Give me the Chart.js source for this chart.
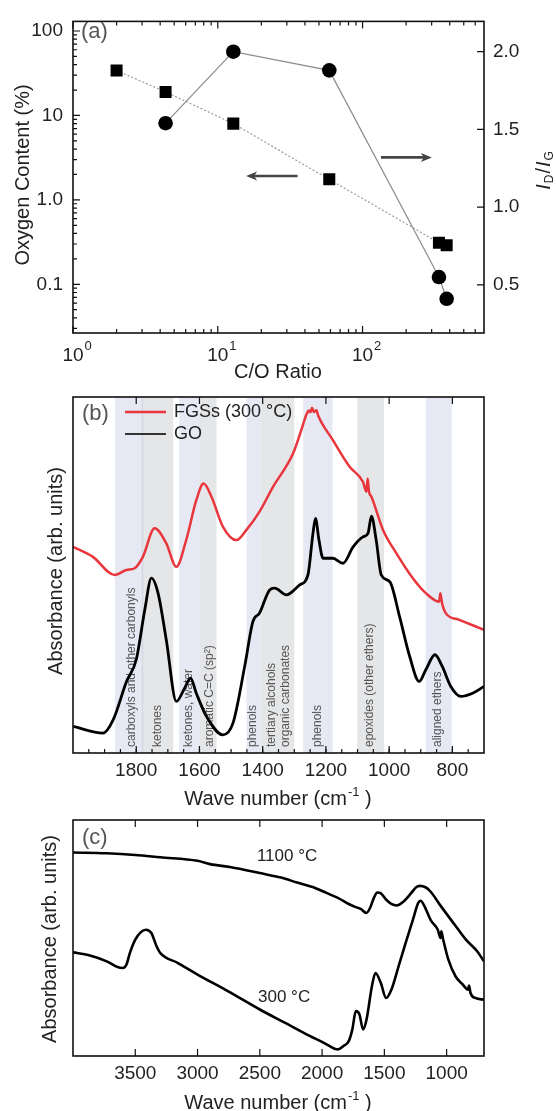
<!DOCTYPE html>
<html>
<head>
<meta charset="utf-8">
<script src="https://cdn.jsdelivr.net/npm/chart.js@4.4.0/dist/chart.umd.min.js"></script>
<style>
  body { margin: 0; background: #fff; width: 556px; height: 1111px; position: relative; overflow: hidden; }
  canvas { position: absolute; left: 0; }
</style>
</head>
<body>
<canvas id="chartA" width="556" height="390" style="top:0"></canvas>
<canvas id="chartB" width="556" height="425" style="top:385px"></canvas>
<canvas id="chartC" width="556" height="301" style="top:810px"></canvas>
<script>
// (a) oxygen content and Raman I_D/I_G against C/O ratio
const coOxygen = [2.0, 4.36, 12.8, 58.9, 337, 381];
const oxygenContent = [34, 19, 8.0, 1.75, 0.31, 0.29];
const coRaman = [4.36, 12.8, 58.9, 337, 381];
const ramanRatio = [1.54, 2.0, 1.88, 0.55, 0.41];
const coTicks = [1, 10, 100];
const oxygenTicks = [0.1, 1, 10, 100];
const oxygenTickText = ['0.1', '1.0', '10', '100'];
const ramanTicks = [0.5, 1.0, 1.5, 2.0];

// (b) FTIR, FGSs at 300 °C and GO
const fgsWave = [2000, 1937, 1868, 1831, 1805, 1779, 1742, 1705, 1673, 1642, 1610, 1587, 1562, 1526, 1483, 1452, 1410, 1367, 1304, 1275, 1262, 1254, 1249, 1244, 1238, 1230, 1225, 1178, 1125, 1083, 1072, 1068, 1064, 1056, 1019, 977, 925, 884, 842, 838, 833, 821, 778, 700];
const fgsAbs = [0.579, 0.551, 0.500, 0.514, 0.519, 0.551, 0.631, 0.589, 0.523, 0.598, 0.710, 0.757, 0.720, 0.636, 0.598, 0.626, 0.678, 0.748, 0.841, 0.915, 0.950, 0.962, 0.957, 0.970, 0.958, 0.963, 0.949, 0.879, 0.804, 0.762, 0.734, 0.771, 0.735, 0.720, 0.626, 0.561, 0.491, 0.449, 0.425, 0.449, 0.422, 0.393, 0.374, 0.346];
const goWave = [2000, 1905, 1873, 1831, 1800, 1773, 1752, 1731, 1705, 1673, 1647, 1628, 1610, 1578, 1526, 1494, 1457, 1431, 1410, 1378, 1362, 1325, 1283, 1257, 1241, 1233, 1222, 1209, 1178, 1146, 1114, 1083, 1067, 1056, 1041, 1025, 998, 967, 935, 905, 884, 855, 832, 805, 773, 736, 700];
const goAbs = [0.075, 0.056, 0.093, 0.200, 0.262, 0.402, 0.491, 0.449, 0.318, 0.145, 0.182, 0.210, 0.168, 0.103, 0.051, 0.084, 0.243, 0.369, 0.393, 0.458, 0.463, 0.444, 0.472, 0.500, 0.617, 0.659, 0.598, 0.547, 0.547, 0.533, 0.579, 0.607, 0.617, 0.665, 0.598, 0.500, 0.481, 0.383, 0.271, 0.201, 0.234, 0.276, 0.243, 0.187, 0.159, 0.168, 0.187];
const bandFrom = [1867, 1783, 1664, 1600, 1451, 1405, 1272, 1101, 884];
const bandTo = [1778, 1683, 1600, 1546, 1405, 1300, 1179, 1016, 802];
const bandTone = ['blue', 'gray', 'blue', 'gray', 'blue', 'gray', 'blue', 'gray', 'blue'];
const groupWave = [1813, 1731, 1633, 1567, 1431, 1371, 1326, 1225, 1061, 846];
const groupName = ['carboxyls and other carbonyls', 'ketones', 'ketones, water', 'aromatic C=C (sp²)', 'phenols', 'tertiary alcohols', 'organic carbonates', 'phenols', 'epoxides (other ethers)', 'aligned ethers'];
const waveTicksB = [1800, 1600, 1400, 1200, 1000, 800];

// (c) FGSs reduced at 1100 °C and 300 °C
const hotWave = [4000, 3730, 3500, 3300, 3000, 2900, 2730, 2500, 2330, 2200, 2070, 1990, 1870, 1790, 1730, 1690, 1645, 1615, 1585, 1557, 1530, 1485, 1445, 1400, 1345, 1285, 1245, 1215, 1170, 1130, 1045, 935, 845, 755, 700];
const hotAbs = [0.862, 0.859, 0.852, 0.842, 0.827, 0.813, 0.800, 0.775, 0.756, 0.735, 0.715, 0.697, 0.669, 0.645, 0.631, 0.623, 0.606, 0.627, 0.669, 0.693, 0.690, 0.662, 0.645, 0.638, 0.655, 0.690, 0.715, 0.721, 0.715, 0.697, 0.634, 0.556, 0.493, 0.444, 0.401];
const warmWave = [4000, 3871, 3729, 3643, 3600, 3571, 3543, 3500, 3457, 3414, 3371, 3329, 3300, 3157, 3000, 2757, 2500, 2300, 2100, 1986, 1900, 1871, 1829, 1786, 1757, 1729, 1700, 1671, 1643, 1600, 1571, 1529, 1486, 1443, 1386, 1329, 1271, 1229, 1209, 1171, 1129, 1071, 1049, 1043, 1029, 986, 929, 871, 829, 820, 809, 771, 700];
const warmAbs = [0.439, 0.427, 0.401, 0.377, 0.373, 0.387, 0.437, 0.493, 0.524, 0.535, 0.521, 0.465, 0.437, 0.394, 0.345, 0.275, 0.197, 0.141, 0.085, 0.056, 0.031, 0.028, 0.042, 0.063, 0.113, 0.190, 0.176, 0.113, 0.155, 0.296, 0.352, 0.310, 0.246, 0.282, 0.380, 0.479, 0.577, 0.648, 0.658, 0.627, 0.577, 0.535, 0.500, 0.528, 0.496, 0.408, 0.338, 0.303, 0.282, 0.299, 0.268, 0.246, 0.239];
const waveTicksC = [3500, 3000, 2500, 2000, 1500, 1000];

const FAMILY = '"Liberation Sans", Arial, Helvetica, sans-serif';
const font = (px, style) => (style ? style + ' ' : '') + px + 'px ' + FAMILY;
const toXY = (xs, ys) => xs.map((x, i) => ({ x: x, y: ys[i] }));

function frame(chart) {
  const { ctx, chartArea: a } = chart;
  ctx.save();
  ctx.strokeStyle = '#111';
  ctx.lineWidth = 1.6;
  ctx.strokeRect(a.left, a.top, a.right - a.left, a.bottom - a.top);
  ctx.restore();
}

// short tick marks pointing into the plot
function inTicks(chart, scale, values, len, edges) {
  const { ctx, chartArea: a } = chart;
  ctx.save();
  ctx.strokeStyle = '#111';
  ctx.lineWidth = 1.2;
  ctx.beginPath();
  values.forEach(v => {
    const p = scale.getPixelForValue(v);
    edges.forEach(e => {
      if (e === 'bottom') { ctx.moveTo(p, a.bottom); ctx.lineTo(p, a.bottom - len); }
      if (e === 'top') { ctx.moveTo(p, a.top); ctx.lineTo(p, a.top + len); }
      if (e === 'left') { ctx.moveTo(a.left, p); ctx.lineTo(a.left + len, p); }
      if (e === 'right') { ctx.moveTo(a.right, p); ctx.lineTo(a.right - len, p); }
    });
  });
  ctx.stroke();
  ctx.restore();
}

function logMinors(lo, hi) {
  const out = [];
  for (let e = Math.floor(Math.log10(lo)); e <= Math.ceil(Math.log10(hi)); e++) {
    for (let m = 2; m <= 9; m++) {
      const v = m * Math.pow(10, e);
      if (v > lo && v < hi) out.push(v);
    }
  }
  return out;
}

function stepValues(lo, hi, step) {
  const out = [];
  for (let v = Math.ceil(lo / step) * step; v <= hi; v += step) out.push(v);
  return out;
}

function vText(ctx, text, x, y, px, align, color) {
  ctx.save();
  ctx.translate(x, y);
  ctx.rotate(-Math.PI / 2);
  ctx.font = font(px);
  ctx.fillStyle = color;
  ctx.textAlign = align;
  ctx.textBaseline = 'middle';
  ctx.fillText(text, 0, 0);
  ctx.restore();
}

function text(ctx, str, x, y, px, color, align) {
  ctx.save();
  ctx.font = font(px);
  ctx.fillStyle = color;
  ctx.textAlign = align || 'left';
  ctx.textBaseline = 'middle';
  ctx.fillText(str, x, y);
  ctx.restore();
}

function waveTitle(ctx, cx, cy) {
  const main = 'Wave number (cm', sup = '-1', tail = ' )';
  ctx.save();
  ctx.fillStyle = '#222';
  ctx.textBaseline = 'alphabetic';
  ctx.font = font(20);
  const w1 = ctx.measureText(main).width, w3 = ctx.measureText(tail).width;
  ctx.font = font(13);
  const w2 = ctx.measureText(sup).width + 1;
  let x = cx - (w1 + w2 + w3) / 2;
  ctx.font = font(20); ctx.fillText(main, x, cy + 7); x += w1;
  ctx.font = font(13); ctx.fillText(sup, x + 1, cy - 2); x += w2;
  ctx.font = font(20); ctx.fillText(tail, x, cy + 7);
  ctx.restore();
}

function arrow(ctx, x0, y0, x1, y1) {
  const dir = Math.sign(x1 - x0);
  ctx.save();
  ctx.strokeStyle = '#444';
  ctx.fillStyle = '#444';
  ctx.lineWidth = 2.6;
  ctx.beginPath();
  ctx.moveTo(x0, y0);
  ctx.lineTo(x1 - dir * 6, y1);
  ctx.stroke();
  ctx.beginPath();
  ctx.moveTo(x1, y1);
  ctx.lineTo(x1 - dir * 11, y1 - 4.5);
  ctx.lineTo(x1 - dir * 8, y1);
  ctx.lineTo(x1 - dir * 11, y1 + 4.5);
  ctx.closePath();
  ctx.fill();
  ctx.restore();
}

const tickFont = { family: FAMILY, size: 19 };
const hideGrid = { display: false, drawTicks: false };

// ---------- (a) ----------
const arrowsA = [
  { from: [134, 1.32], to: [301, 1.32] },
  { from: [35.6, 1.2], to: [15.7, 1.2] }
];

const panelA = {
  id: 'panelA',
  afterDraw(chart) {
    const { ctx } = chart;
    const x = chart.scales.x, yO = chart.scales.yO, yR = chart.scales.yR;
    frame(chart);
    inTicks(chart, x, coTicks, 7, ['bottom', 'top']);
    inTicks(chart, x, logMinors(x.min, x.max), 4, ['bottom', 'top']);
    inTicks(chart, yO, oxygenTicks, 7, ['left']);
    inTicks(chart, yO, logMinors(yO.min, yO.max), 4, ['left']);
    inTicks(chart, yR, ramanTicks, 7, ['right']);

    // decade labels 10^n under the log axis
    ctx.save();
    ctx.fillStyle = '#222';
    ctx.textBaseline = 'alphabetic';
    coTicks.forEach(v => {
      const p = x.getPixelForValue(v);
      ctx.font = font(19);
      const w = ctx.measureText('10').width;
      ctx.textAlign = 'center';
      ctx.fillText('10', p, 361);
      ctx.font = font(13);
      ctx.textAlign = 'left';
      ctx.fillText(String(Math.round(Math.log10(v))), p + w / 2 + 1, 350);
    });
    ctx.restore();

    text(ctx, 'C/O Ratio', 278, 372, 20, '#222', 'center');
    vText(ctx, 'Oxygen Content (%)', 23, 175, 20, 'center', '#222');
    text(ctx, '(a)', 81, 32, 22, '#555');

    // I_D / I_G, rotated on the right side
    ctx.save();
    ctx.translate(550, 170);
    ctx.rotate(-Math.PI / 2);
    ctx.fillStyle = '#222';
    ctx.textBaseline = 'alphabetic';
    const parts = [
      { t: 'I', f: font(20, 'italic'), dy: 0 },
      { t: 'D', f: font(12), dy: 3 },
      { t: '/', f: font(20), dy: 0 },
      { t: 'I', f: font(20, 'italic'), dy: 0 },
      { t: 'G', f: font(12), dy: 3 }
    ];
    let total = 0;
    parts.forEach(p => { ctx.font = p.f; p.w = ctx.measureText(p.t).width + 1; total += p.w; });
    let px = -total / 2;
    parts.forEach(p => { ctx.font = p.f; ctx.fillText(p.t, px, p.dy); px += p.w; });
    ctx.restore();

    arrowsA.forEach(a => {
      arrow(ctx, x.getPixelForValue(a.from[0]), yR.getPixelForValue(a.from[1]),
        x.getPixelForValue(a.to[0]), yR.getPixelForValue(a.to[1]));
    });
  }
};

new Chart(document.getElementById('chartA'), {
  type: 'scatter',
  data: {
    datasets: [
      {
        label: 'ID/IG', data: toXY(coRaman, ramanRatio), yAxisID: 'yR', showLine: true,
        borderColor: '#8c8c8c', borderWidth: 1.2, pointStyle: 'circle', pointRadius: 7.3,
        pointBackgroundColor: '#000', pointBorderColor: '#000', pointBorderWidth: 0
      },
      {
        label: 'Oxygen content', data: toXY(coOxygen, oxygenContent), yAxisID: 'yO', showLine: true,
        borderColor: '#9a9a9a', borderWidth: 1.2, borderDash: [2, 2], pointStyle: 'rect', pointRadius: 8.5,
        pointBackgroundColor: '#000', pointBorderColor: '#000', pointBorderWidth: 0
      }
    ]
  },
  options: {
    responsive: false, animation: false, events: [],
    layout: { padding: { top: 13 } },
    plugins: { legend: { display: false }, tooltip: { enabled: false } },
    scales: {
      x: {
        type: 'logarithmic', min: 1, max: 690,
        ticks: { display: false }, grid: hideGrid, border: { display: false },
        afterFit: s => { s.height = 57; }
      },
      yO: {
        type: 'logarithmic', position: 'left', min: 0.0265, max: 130,
        afterBuildTicks: s => { s.ticks = oxygenTicks.map(v => ({ value: v })); },
        ticks: {
          font: tickFont, color: '#222', padding: 10, autoSkip: false,
          callback: v => oxygenTickText[oxygenTicks.findIndex(t => Math.abs(Math.log10(v / t)) < 1e-6)]
        },
        grid: hideGrid, border: { display: false },
        afterFit: s => { s.width = 73; }
      },
      yR: {
        type: 'linear', position: 'right', min: 0.19, max: 2.195,
        afterBuildTicks: s => { s.ticks = ramanTicks.map(v => ({ value: v })); },
        ticks: { font: tickFont, color: '#222', padding: 9, autoSkip: false, callback: v => Number(v).toFixed(1) },
        grid: hideGrid, border: { display: false },
        afterFit: s => { s.width = 72; }
      }
    }
  },
  plugins: [panelA]
});

// ---------- (b) ----------
const toneFill = { blue: 'rgba(180,188,222,0.33)', gray: 'rgba(190,192,198,0.4)' };

const panelB = {
  id: 'panelB',
  beforeDatasetsDraw(chart) {
    const { ctx, chartArea: a } = chart;
    const x = chart.scales.x;
    ctx.save();
    bandFrom.forEach((w, i) => {
      const p0 = x.getPixelForValue(w), p1 = x.getPixelForValue(bandTo[i]);
      ctx.fillStyle = toneFill[bandTone[i]];
      ctx.fillRect(p0, a.top, p1 - p0, a.bottom - a.top);
    });
    ctx.restore();
    groupWave.forEach((w, i) => {
      vText(ctx, groupName[i], x.getPixelForValue(w), a.bottom - 6, 12, 'left', '#555');
    });
  },
  afterDraw(chart) {
    const { ctx } = chart;
    const x = chart.scales.x;
    frame(chart);
    inTicks(chart, x, waveTicksB, 7, ['bottom', 'top']);
    inTicks(chart, x, stepValues(x.min + 1, x.max - 1, 50), 4, ['bottom']);
    waveTitle(ctx, 278, 413);
    vText(ctx, 'Absorbance (arb. units)', 56, 186, 20, 'center', '#222');
    text(ctx, '(b)', 82, 29, 22, '#555');

    // legend
    ctx.save();
    ctx.lineWidth = 2.6;
    ctx.strokeStyle = '#e8363c';
    ctx.beginPath(); ctx.moveTo(125, 27); ctx.lineTo(166, 27); ctx.stroke();
    ctx.strokeStyle = '#333';
    ctx.lineWidth = 2;
    ctx.beginPath(); ctx.moveTo(125, 49); ctx.lineTo(166, 49); ctx.stroke();
    ctx.restore();
    text(ctx, 'FGSs (300 °C)', 174, 27, 18, '#222');
    text(ctx, 'GO', 174, 49, 18, '#222');
  }
};

new Chart(document.getElementById('chartB'), {
  type: 'line',
  data: {
    datasets: [
      { label: 'FGSs (300 °C)', data: toXY(fgsWave, fgsAbs), borderColor: '#e8363c', borderWidth: 2.5, pointRadius: 0, cubicInterpolationMode: 'monotone' },
      { label: 'GO', data: toXY(goWave, goAbs), borderColor: '#000', borderWidth: 2.8, pointRadius: 0, cubicInterpolationMode: 'monotone' }
    ]
  },
  options: {
    responsive: false, animation: false, events: [],
    layout: { padding: { top: 12, left: 73, right: 72 } },
    plugins: { legend: { display: false }, tooltip: { enabled: false } },
    scales: {
      x: {
        type: 'linear', reverse: true, min: 700, max: 2000,
        afterBuildTicks: s => { s.ticks = waveTicksB.map(v => ({ value: v })); },
        ticks: { font: tickFont, color: '#222', padding: 6, autoSkip: false, maxRotation: 0, callback: v => String(v) },
        grid: hideGrid, border: { display: false },
        afterFit: s => { s.height = 57; }
      },
      y: { display: false, min: 0, max: 1 }
    }
  },
  plugins: [panelB]
});

// ---------- (c) ----------
const curveNotes = [
  { label: '1100 °C', at: [2281, 0.847] },
  { label: '300 °C', at: [2305, 0.25] }
];

const panelC = {
  id: 'panelC',
  afterDraw(chart) {
    const { ctx } = chart;
    const x = chart.scales.x, y = chart.scales.y;
    frame(chart);
    inTicks(chart, x, waveTicksC, 7, ['bottom', 'top']);
    curveNotes.forEach(n => {
      text(ctx, n.label, x.getPixelForValue(n.at[0]), y.getPixelForValue(n.at[1]), 17, '#222', 'center');
    });
    waveTitle(ctx, 278, 292);
    vText(ctx, 'Absorbance (arb. units)', 50, 129, 20, 'center', '#222');
    text(ctx, '(c)', 82, 28, 22, '#555');
  }
};

new Chart(document.getElementById('chartC'), {
  type: 'line',
  data: {
    datasets: [
      { label: '1100 °C', data: toXY(hotWave, hotAbs), borderColor: '#000', borderWidth: 2.6, pointRadius: 0, cubicInterpolationMode: 'monotone' },
      { label: '300 °C', data: toXY(warmWave, warmAbs), borderColor: '#000', borderWidth: 2.6, pointRadius: 0, cubicInterpolationMode: 'monotone' }
    ]
  },
  options: {
    responsive: false, animation: false, events: [],
    layout: { padding: { top: 10, left: 73, right: 72 } },
    plugins: { legend: { display: false }, tooltip: { enabled: false } },
    scales: {
      x: {
        type: 'linear', reverse: true, min: 700, max: 4000,
        afterBuildTicks: s => { s.ticks = waveTicksC.map(v => ({ value: v })); },
        ticks: { font: tickFont, color: '#222', padding: 6, autoSkip: false, maxRotation: 0, callback: v => String(v) },
        grid: hideGrid, border: { display: false },
        afterFit: s => { s.height = 55; }
      },
      y: { display: false, min: 0, max: 1 }
    }
  },
  plugins: [panelC]
});
</script>
</body>
</html>
